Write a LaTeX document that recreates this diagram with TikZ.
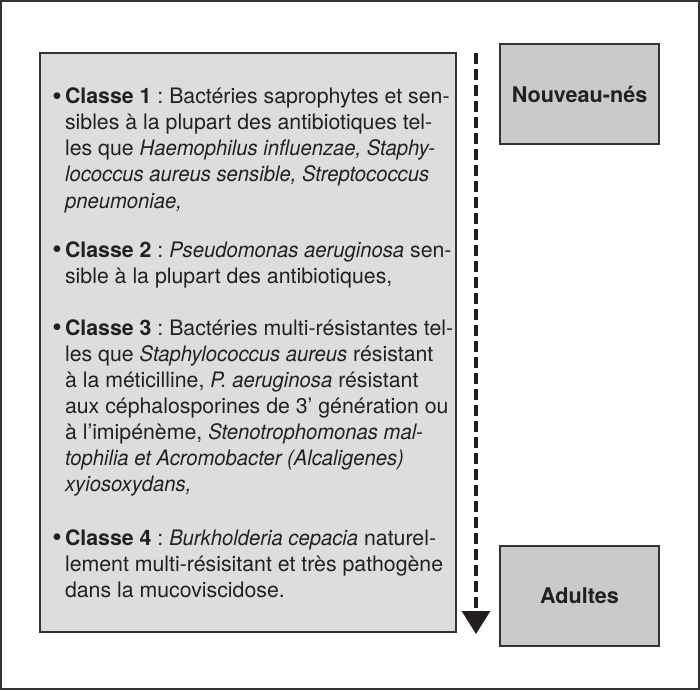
\documentclass[tikz,border=0pt]{standalone}
\usepackage{fontspec}
\setmainfont{TeX Gyre Heros}[ItalicFeatures={FakeStretch=0.95},
  BoldItalicFeatures={FakeStretch=0.95}]
\usetikzlibrary{arrows.meta}
\frenchspacing

\definecolor{boxgray}{HTML}{DCDDDF}
\definecolor{agegray}{HTML}{C9CACC}
\definecolor{linegray}{HTML}{333333}
\definecolor{textgray}{HTML}{231F20}

\tikzset{
  classitem/.style={anchor=base west, inner sep=0pt, text=textgray,
    font=\fontsize{10.65}{13}\selectfont},
  agebox/.style={draw=linegray, fill=agegray, line width=0.7pt,
    minimum width=79.5pt, minimum height=50pt, text=textgray,
    font=\fontsize{10.8}{13}\selectfont\bfseries},
}
\newcommand{\puce}{{\fontsize{13.5}{13}\selectfont\raisebox{-0.6pt}{\textbullet}}\hspace{1.6pt}}

\begin{document}
\begin{tikzpicture}[x=0.5pt, y=-0.5pt]
\useasboundingbox (0,0) rectangle (700,690);
\draw[line width=0.8pt, linegray] (1,1) rectangle (699,689);
\draw[line width=0.7pt, draw=linegray, fill=boxgray] (40,53) rectangle (456,632);

% les quatre classes
\node[classitem] (classe1) at (52,104) {\puce\begin{tabular}[t]{@{}l@{}}
  \textbf{Classe 1} : Bactéries saprophytes et sen-\\
  sibles à la plupart des antibiotiques tel-\\
  les que \textit{Haemophilus influenzae, Staphy-}\\
  \textit{lococcus aureus sensible, Streptococcus}\\
  \textit{pneumoniae,}
\end{tabular}};
\node[classitem] (classe2) at (52,257) {\puce\begin{tabular}[t]{@{}l@{}}
  \textbf{Classe 2} : \textit{Pseudomonas aeruginosa} sen-\\
  sible à la plupart des antibiotiques,
\end{tabular}};
\node[classitem] (classe3) at (52,335) {\puce\begin{tabular}[t]{@{}l@{}}
  \textbf{Classe 3} : Bactéries multi-résistantes tel-\\
  les que \textit{Staphylococcus aureus} résistant\\
  à la méticilline, \textit{P. aeruginosa} résistant\\
  aux céphalosporines de 3’ génération ou\\
  à l’imipénème, \textit{Stenotrophomonas mal-}\\
  \textit{tophilia et Acromobacter (Alcaligenes)}\\
  \textit{xyiosoxydans,}
\end{tabular}};
\node[classitem] (classe4) at (52,545) {\puce\begin{tabular}[t]{@{}l@{}}
  \textbf{Classe 4} : \textit{Burkholderia cepacia} naturel-\\
  lement multi-résisitant et très pathogène\\
  dans la mucoviscidose.
\end{tabular}};

% tranches d'age
\node[agebox] (nouveau) at (579.5,94) {Nouveau-nés};
\node[agebox] (adultes) at (579.5,596) {Adultes};

\coordinate (haut) at (476,53);
\coordinate (bas) at (476,634);
\draw[line width=1.6pt, textgray, dash pattern=on 5.5pt off 2.5pt,
  -{Triangle[width=14pt,length=11.5pt]}] (haut) -- (bas);
\end{tikzpicture}
\end{document}
